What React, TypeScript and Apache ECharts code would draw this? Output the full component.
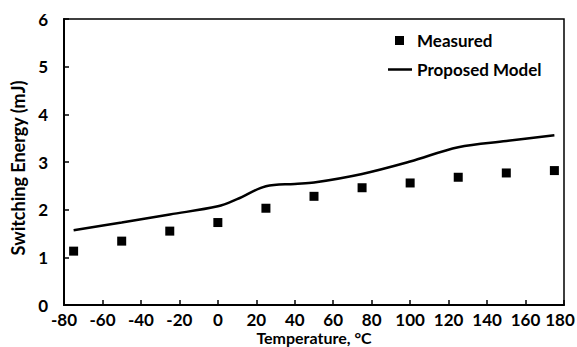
import React, { useEffect, useRef } from "react";
import * as echarts from "echarts";

const temperatures = [-75, -50, -25, 0, 25, 50, 75, 100, 125, 150, 175];
const measured = [1.13, 1.34, 1.55, 1.73, 2.03, 2.28, 2.46, 2.56, 2.68, 2.77, 2.82];
const modelTemps = [-75, -50, -25, 0, 10, 25, 40, 50, 75, 100, 125, 150, 175];
const modelValues = [1.57, 1.73, 1.9, 2.07, 2.22, 2.49, 2.54, 2.57, 2.75, 3.01, 3.31, 3.44, 3.56];
const seriesNames = ["Measured", "Proposed Model"];
const xAxisTitle = "Temperature, °C";
const yAxisTitle = "Switching Energy (mJ)";
const xMin = -80;
const xMax = 180;

const FONT = "Lato";

export default function App() {
  const ref = useRef<HTMLDivElement>(null);
  useEffect(() => {
    document.body.style.margin = "0";
    const chart = echarts.init(ref.current!, null, { renderer: "svg" });
    const textStyle = { fontFamily: FONT, fontWeight: "bold" as const, fontSize: 17, color: "#000" };
    chart.setOption({
      animation: false,
      backgroundColor: "#fff",
      grid: {
        left: 64,
        top: 19,
        width: 500,
        height: 286,
        show: true,
        borderColor: "#000",
        borderWidth: 1.5,
        outerBoundsMode: "none",
        containLabel: false,
      },
      legend: [
        {
          data: [{ name: seriesNames[0], icon: "rect" }],
          left: 390,
          top: 27,
          itemWidth: 9,
          itemHeight: 9,
          textStyle: { ...textStyle, padding: [0, 0, 0, 8] },
          selectedMode: false,
        },
        {
          data: [{ name: seriesNames[1], icon: "rect", itemStyle: { color: "#000" } }],
          left: 383,
          top: 56,
          itemWidth: 24,
          itemHeight: 2.5,
          textStyle: { ...textStyle },
          selectedMode: false,
        },
      ],
      xAxis: {
        type: "value",
        min: xMin,
        max: xMax,
        interval: 20,
        name: xAxisTitle,
        nameLocation: "middle",
        nameGap: 24,
        nameMoveOverlap: false,
        nameTextStyle: { ...textStyle, fontSize: 16, lineHeight: 16, verticalAlign: "top" },
        axisLine: { lineStyle: { color: "#000", width: 2 } },
        axisTick: { inside: true, length: 5, lineStyle: { color: "#000", width: 1.5 } },
        axisLabel: {
          ...textStyle,
          lineHeight: 17,
          margin: 6,
          formatter: (v: number) => (v === xMax ? `{last|${v}}` : `${v}`),
          rich: { last: { ...textStyle, lineHeight: 17, padding: [0, 8, 0, 0] } },
        },
        splitLine: { show: false },
      },
      yAxis: {
        type: "value",
        min: 0,
        max: 6,
        interval: 1,
        name: yAxisTitle,
        nameLocation: "middle",
        nameGap: 37,
        nameMoveOverlap: false,
        nameTextStyle: { ...textStyle, fontSize: 18, padding: [0, 12, 0, 0] },
        axisLine: { show: true, onZero: false, lineStyle: { color: "#000", width: 2 } },
        axisTick: { show: true, inside: true, length: 5, lineStyle: { color: "#000", width: 1.5 } },
        axisLabel: { ...textStyle, margin: 16 },
        splitLine: { show: false },
      },
      series: [
        {
          name: seriesNames[0],
          type: "scatter",
          symbol: "rect",
          symbolSize: 9,
          itemStyle: { color: "#000", opacity: 1 },
          data: temperatures.map((t, i) => [t, measured[i]]),
          z: 3,
        },
        {
          name: seriesNames[1],
          type: "line",
          smooth: 0.35,
          showSymbol: false,
          symbol: "none",
          lineStyle: { color: "#000", width: 2.5 },
          itemStyle: { color: "#000" },
          data: modelTemps.map((t, i) => [t, modelValues[i]]),
          z: 2,
        },
      ],
    });
    return () => chart.dispose();
  }, []);
  return <div ref={ref} style={{ width: 577, height: 347 }} />;
}
